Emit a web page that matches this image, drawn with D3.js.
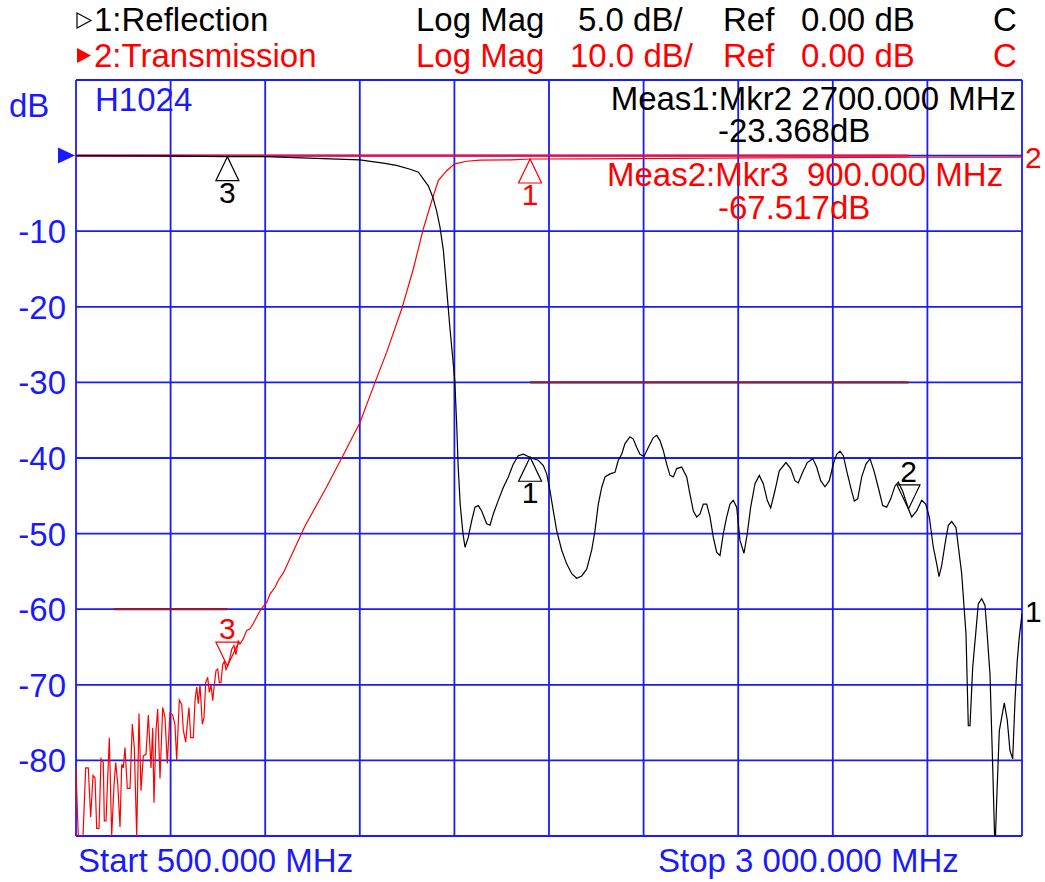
<!DOCTYPE html>
<html>
<head>
<meta charset="utf-8">
<script src="https://cdn.jsdelivr.net/npm/d3@7"></script>
<style>
body { margin: 0; background: #fff; }
text { font-family: "Liberation Sans", Arial, sans-serif; }
</style>
</head>
<body>
<svg id="chart" width="1045" height="882"></svg>
<script>
// frequency axis (MHz)
const freqTicks = [500, 750, 1000, 1250, 1500, 1750, 2000, 2250, 2500, 2750, 3000];
// display grid in 10 dB/div (transmission scale)
const dbTicks = [10, 0, -10, -20, -30, -40, -50, -60, -70, -80, -90];
const dbTickLabels = [-10, -20, -30, -40, -50, -60, -70, -80];

// trace 2: transmission, dB (10 dB/div)
const transFreq = [500, 506, 518.5, 525.6, 532.5, 534.4, 538.8, 544.9, 550.2, 554.7, 560.8, 566.1, 572.1, 574.8, 579.3,
  588, 594.3, 600.4, 604.9, 610.2, 616.3, 620.8, 625, 629.5, 635.6, 642.7, 648.8, 654.1, 660.4, 666.5, 671.8,
  677.9, 685, 691.1, 698.2, 702.7, 706.1, 711.4, 715.9, 722, 729.1, 735.2, 741.3, 748.4, 755.5, 761.6, 766.1,
  773, 779.3, 783.6, 789.9, 794.1, 798.6, 803.1, 810, 814.5, 819, 823.2, 827.7, 833.8, 838.3, 842.8, 848,
  852.3, 856.8, 861.3, 865.5, 870, 874.5, 878.7, 883.2, 887.7, 891.9, 896.4, 900.9, 907, 911.5, 917.5, 922.8,
  928.9, 933.4, 942.1, 951.1, 959.8, 968.6, 975.7, 981.8, 990.8, 1004, 1012.7, 1025.9, 1034.6, 1047.8,
  1105.2, 1162.5, 1206.4, 1250.5, 1290.2, 1321.1, 1360.7, 1391.4, 1417.8, 1440, 1457.5, 1479.6, 1500.8,
  1532.5, 1567.7, 1651.4, 1700, 1849.6, 2289, 2738, 3000];
const transDb = [-81.3, -90, -90, -81, -81, -83, -87.5, -82, -82.3, -89, -89, -79.8, -80.3, -88, -88,
  -77, -90, -83.3, -80.3, -83, -88.8, -80.5, -81, -78.3, -83.7, -83.7, -75.2, -78.3, -90, -73.8, -84,
  -79.4, -79.2, -74, -81, -75.7, -85.6, -76, -73.2, -82.4, -73, -74.3, -80.4, -73.7, -74, -75.3, -80,
  -72, -72.6, -76, -77.6, -75.2, -73, -77, -77, -72.1, -70.3, -72.5, -70, -75.2, -74.3, -69.7, -69,
  -71, -70, -72.1, -70, -68.1, -67.9, -69.7, -69.7, -67.3, -66.9, -68, -67.5, -66.4, -65.3, -64.8, -66,
  -64.2, -64.6, -63.9, -62.8, -62.6, -61.9, -61.2, -60.6, -59.9, -59.1, -58, -57.1, -56.2, -55.2,
  -49, -43.8, -39.6, -35.3, -30, -26, -20.3, -15, -9.7, -6, -3.3, -2, -1.1,
  -0.75, -0.6, -0.57, -0.45, -0.44, -0.3, -0.22, -0.2];

// trace 1: reflection, dB (5 dB/div)
const reflFreq = [500, 700, 900, 1000, 1250, 1312, 1347, 1383, 1405, 1418, 1431, 1443, 1453, 1462, 1471, 1480,
  1488, 1495.5, 1501, 1506, 1510, 1515.6, 1522.7, 1528, 1536.7, 1545.7, 1554.4, 1563.2, 1572.1, 1585.3,
  1594.1, 1602.8, 1616, 1629.2, 1642.5, 1655.7, 1668.9, 1682.1, 1695.3, 1708.5, 1721.7, 1734.9, 1743.9,
  1752.6, 1761.4, 1770.3, 1783.6, 1796.8, 1810, 1823.2, 1836.4, 1849.6, 1862.8, 1871.6, 1880.3, 1889.3,
  1898, 1911.2, 1924.4, 1933.1, 1942.1, 1950.8, 1964, 1972.8, 1981.8, 1990.5, 2001, 2012.4, 2025.6, 2034.6,
  2043.3, 2052, 2061, 2069.8, 2078.5, 2087.5, 2100.7, 2113.9, 2122.6, 2131.4, 2140.4, 2149.1, 2157.8,
  2166.8, 2175.5, 2184.2, 2193.2, 2201.9, 2210.6, 2219.6, 2228.3, 2237, 2246, 2254.7, 2265.3, 2274, 2283,
  2294.4, 2305.7, 2316.3, 2326.8, 2335.8, 2347.2, 2358.6, 2376.3, 2388.7, 2400, 2408.8, 2420.4, 2432.6,
  2446.9, 2457.4, 2468, 2479.4, 2490.7, 2501.3, 2510.3, 2519, 2527.8, 2536.7, 2547.3, 2556.8, 2565.8,
  2576.4, 2587.7, 2598.3, 2608.9, 2620.2, 2631.9, 2642.4, 2653, 2664.4, 2673.1, 2684.7, 2700, 2708.5,
  2721.7, 2735, 2745.5, 2755, 2765.6, 2774.6, 2780.7, 2787.8, 2796.5, 2805.2, 2814.2, 2825.6, 2840.6,
  2852, 2858.1, 2862.6, 2869.7, 2878.4, 2884.5, 2893.5, 2902.2, 2906.7, 2915.4, 2922.6, 2928.6, 2933.1,
  2940, 2946.3, 2953.2, 2961.1, 2968.2, 2975.4, 2981.5, 2987.5, 2992.8, 3000];
const reflDb = [0, -0.02, -0.07, -0.07, -0.28, -0.5, -0.65, -0.9, -1.1, -1.55, -2, -2.75, -3.65, -4.75, -6.3, -8.95,
  -11.35, -13.35, -14.9, -17.75, -20.6, -23.15, -25, -25.9, -25.25, -24.15, -23.25, -23.15, -23.5, -24.35,
  -24.45, -23.7, -22.8, -21.95, -21.25, -20.4, -19.85, -19.75, -19.9, -20.05, -20.15, -20.5, -21.05,
  -22.15, -23.5, -24.8, -26.1, -27, -27.65, -27.95, -27.8, -27.35, -26.1, -24.8, -23.05, -21.95,
  -21.25, -21.05, -20.95, -20.15, -19.75, -19.05, -18.6, -18.75, -19.3, -19.75, -19.9, -19.3, -18.65, -18.5,
  -18.85, -19.5, -20.4, -21.15, -21.25, -20.7, -20.6, -21.25, -22.4, -23.5, -23.9, -23.7, -23.05,
  -23.05, -23.9, -25.25, -26.25, -26.45, -25, -23.9, -23.05, -22.8, -23.25, -25.45, -26.3, -25, -23.25,
  -21.7, -21.15, -21.7, -22.8, -23.3, -22.15, -20.85, -20.3, -20.7, -21.5, -21.65, -20.95, -20.3,
  -20.05, -20.6, -21.5, -21.9, -21.5, -20.4, -19.75, -19.55, -19.85, -20.85, -21.95, -22.85, -22.7,
  -21.25, -20.4, -20.05, -20.85, -21.95, -23.15, -23.25, -22.7, -21.85, -21.6, -22.2, -23.37, -23.9,
  -23.5, -22.8, -23.05, -23.9, -25.9, -27, -27.85, -27.1, -25.7, -24.45, -24.2, -24.6, -27.65,
  -31.65, -37.7, -37.7, -33.85, -31.4, -29.65, -29.3, -29.75, -31.2, -34.3, -40.45, -46, -42.65,
  -38.05, -37.15, -36.2, -37.35, -39.35, -39.9, -36.05, -33.4, -31.85, -30.3];

// markers
const reflMarkerNo = [1, 2, 3];
const reflMarkerFreq = [1700, 2700, 900];
const reflMarkerDb = [-19.95, -23.368, -0.07];
const reflMarkerDir = ['up', 'down', 'up'];
const transMarkerNo = [1, 3];
const transMarkerFreq = [1700, 900];
const transMarkerDb = [-0.45, -67.517];
const transMarkerDir = ['up', 'down'];

// limit lines, display dB
const limitStart = [500, 1700, 600];
const limitStop = [2700, 2700, 900];
const limitDb = [0, -30, -60];

const BLUE = '#1a1aff';
const RED = '#ff0000';
const FONT = 33;

const plot = { left: 76, right: 1022, top: 80, bottom: 836 };
const svg = d3.select('#chart');

const x = d3.scaleLinear().domain([500, 3000]).range([plot.left, plot.right]);
const yTrans = d3.scaleLinear().domain([-90, 10]).range([plot.bottom, plot.top]);
const yRefl = d3.scaleLinear().domain([-45, 5]).range([plot.bottom, plot.top]);

// grid
const grid = svg.append('g');
grid.selectAll('line.v')
  .data(freqTicks)
  .join('line')
  .attr('x1', d => x(d)).attr('x2', d => x(d))
  .attr('y1', plot.top).attr('y2', plot.bottom)
  .attr('stroke', BLUE).attr('stroke-width', 1.8);
grid.selectAll('line.h')
  .data(dbTicks)
  .join('line')
  .attr('x1', plot.left).attr('x2', plot.right)
  .attr('y1', d => yTrans(d)).attr('y2', d => yTrans(d))
  .attr('stroke', BLUE).attr('stroke-width', 1.8);

// y tick labels
svg.append('g').selectAll('text')
  .data(dbTickLabels)
  .join('text')
  .attr('x', 66)
  .attr('y', d => yTrans(d) + 12)
  .attr('text-anchor', 'end')
  .attr('font-size', FONT)
  .attr('fill', BLUE)
  .text(d => d);

// limit lines
const limitColors = ['#e0104a', '#8c1c3c', '#8c1c3c'];
svg.append('g').selectAll('line')
  .data(limitDb)
  .join('line')
  .attr('x1', (d, i) => x(limitStart[i]))
  .attr('x2', (d, i) => x(limitStop[i]))
  .attr('y1', d => yTrans(d)).attr('y2', d => yTrans(d))
  .attr('stroke', (d, i) => limitColors[i])
  .attr('stroke-width', 2.2);

// traces
svg.append('clipPath').attr('id', 'clip')
  .append('rect')
  .attr('x', plot.left).attr('y', plot.top)
  .attr('width', plot.right - plot.left).attr('height', plot.bottom - plot.top);

const transData = transFreq.map((f, i) => ({ f, v: transDb[i] }));
const reflData = reflFreq.map((f, i) => ({ f, v: reflDb[i] }));

const traces = svg.append('g').attr('clip-path', 'url(#clip)');
traces.append('path')
  .datum(transData)
  .attr('fill', 'none')
  .attr('stroke', RED)
  .attr('stroke-width', 1.2)
  .attr('d', d3.line().x(d => x(d.f)).y(d => yTrans(d.v)));
traces.append('path')
  .datum(reflData)
  .attr('fill', 'none')
  .attr('stroke', '#000')
  .attr('stroke-width', 1.2)
  .attr('d', d3.line().x(d => x(d.f)).y(d => yRefl(d.v)));

// markers
function drawMarker(px, py, dir, label, color) {
  const h = 24, w = 11.5;
  const s = dir === 'up' ? 1 : -1;
  svg.append('path')
    .attr('d', `M${px},${py} L${px - w},${py + s * h} L${px + w},${py + s * h} Z`)
    .attr('fill', 'none')
    .attr('stroke', color)
    .attr('stroke-width', 1.2);
  svg.append('text')
    .attr('x', px)
    .attr('y', dir === 'up' ? py + 46 : py - 27)
    .attr('text-anchor', 'middle')
    .attr('font-size', 30)
    .attr('fill', color)
    .text(label);
}
reflMarkerNo.forEach((n, i) =>
  drawMarker(x(reflMarkerFreq[i]), yRefl(reflMarkerDb[i]), reflMarkerDir[i], n, '#000'));
transMarkerNo.forEach((n, i) =>
  drawMarker(x(transMarkerFreq[i]), yTrans(transMarkerDb[i]), transMarkerDir[i], n, RED));

// trace end labels
svg.append('text')
  .attr('x', 1025).attr('y', yTrans(transDb[transDb.length - 1]) + 11)
  .attr('font-size', 30).attr('fill', RED).text('2');
svg.append('text')
  .attr('x', 1025).attr('y', yRefl(reflDb[reflDb.length - 1]) + 8)
  .attr('font-size', 30).attr('fill', '#000').text('1');

// reference position arrow
svg.append('path')
  .attr('d', `M58,${yTrans(0) - 8} L75,${yTrans(0)} L58,${yTrans(0) + 8} Z`)
  .attr('fill', BLUE);

// header
svg.append('path').attr('d', 'M77,13 L91,20.5 L77,28 Z')
  .attr('fill', 'none').attr('stroke', '#000').attr('stroke-width', 1.2);
svg.append('path').attr('d', 'M77,48 L91,55.5 L77,63 Z').attr('fill', RED);

const headerRows = [
  { y: 31, color: '#000', name: '1:Reflection', scale: '5.0 dB/', x: 578 },
  { y: 67, color: RED, name: '2:Transmission', scale: '10.0 dB/', x: 570 }
];
headerRows.forEach(r => {
  const g = svg.append('g').attr('fill', r.color).attr('font-size', FONT);
  g.append('text').attr('x', 94).attr('y', r.y).text(r.name);
  g.append('text').attr('x', 416).attr('y', r.y).text('Log Mag');
  g.append('text').attr('x', r.x).attr('y', r.y).text(r.scale);
  g.append('text').attr('x', 723).attr('y', r.y).text('Ref');
  g.append('text').attr('x', 801).attr('y', r.y).text('0.00 dB');
  g.append('text').attr('x', 993).attr('y', r.y).text('C');
});

svg.append('text').attr('x', 9).attr('y', 117)
  .attr('font-size', FONT).attr('fill', BLUE).text('dB');
svg.append('text').attr('x', 95).attr('y', 111)
  .attr('font-size', FONT).attr('fill', BLUE).text('H1024');

// measurement readouts
svg.append('text').attr('x', 1016).attr('y', 110).attr('text-anchor', 'end')
  .attr('font-size', FONT).attr('fill', '#000').text('Meas1:Mkr2 2700.000 MHz');
svg.append('text').attr('x', 718).attr('y', 142)
  .attr('font-size', FONT).attr('fill', '#000').text('-23.368dB');
svg.append('text').attr('x', 607).attr('y', 186)
  .attr('font-size', FONT).attr('fill', RED).attr('xml:space', 'preserve').text('Meas2:Mkr3  900.000 MHz');
svg.append('text').attr('x', 718).attr('y', 219)
  .attr('font-size', FONT).attr('fill', RED).text('-67.517dB');

// start / stop
svg.append('text').attr('x', 78).attr('y', 872)
  .attr('font-size', FONT).attr('fill', BLUE).text('Start 500.000 MHz');
svg.append('text').attr('x', 658).attr('y', 872)
  .attr('font-size', FONT).attr('fill', BLUE).text('Stop 3 000.000 MHz');
</script>
</body>
</html>
